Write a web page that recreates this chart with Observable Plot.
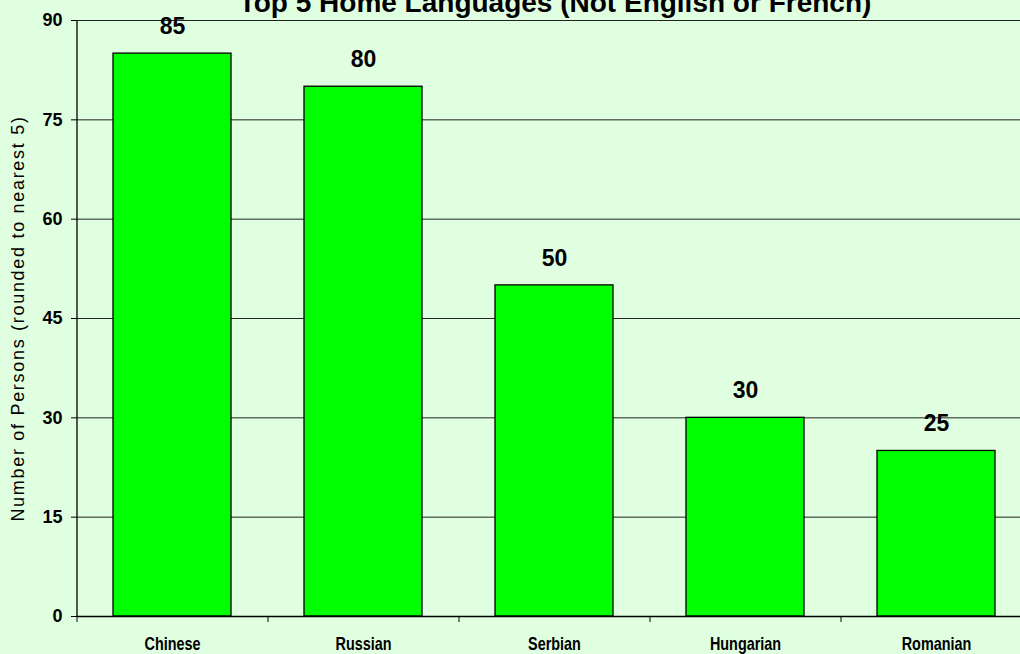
<!DOCTYPE html>
<html><head><meta charset="utf-8">
<script src="https://cdn.jsdelivr.net/npm/d3@7"></script>
<script src="https://cdn.jsdelivr.net/npm/@observablehq/plot@0.6"></script>
<style>
html,body{margin:0;padding:0;background:#e0ffe0;overflow:hidden;}
#chart svg{display:block;}
</style>
</head><body><div id="chart"></div>
<script>
const languages = ["Chinese", "Russian", "Serbian", "Hungarian", "Romanian"];
const persons = [85, 80, 50, 30, 25];
const yTicks = [0, 15, 30, 45, 60, 75, 90];
const title = "Top 5 Home Languages (Not English or French)";
const yLabel = "Number of Persons (rounded to nearest 5)";

const data = languages.map((l, i) => ({language: l, value: persons[i]}));
const halfStep = (1032 - 77) / languages.length / 2;

const chart = Plot.plot({
  width: 1020,
  height: 654,
  marginLeft: 77,
  marginRight: -12,
  marginTop: 20,
  marginBottom: 38,
  style: {background: "#e0ffe0", fontFamily: "Arial, 'Liberation Sans', sans-serif", overflow: "visible"},
  x: {domain: languages, paddingInner: 0.38, paddingOuter: 0.19, label: null},
  y: {domain: [0, 90], label: null},
  marks: [
    Plot.ruleY(yTicks, {stroke: "#222", strokeWidth: 1}),
    Plot.barY(data, {x: "language", y: "value", fill: "#00ff00", stroke: "#000", strokeWidth: 1.3}),
    Plot.ruleY([0], {stroke: "#000", strokeWidth: 1.6}),
    Plot.ruleX([languages[0]], {x: d => d, dx: -halfStep, y1: 0, y2: 90, stroke: "#000", strokeWidth: 1.3}),
    Plot.ruleX(languages, {x: d => d, dx: -halfStep, y1: 0, y2: -0.9, stroke: "#000", strokeWidth: 1}),
    Plot.text(data, {x: "language", y: "value", text: d => String(d.value), dy: -27, fontSize: 23, fontWeight: "bold", fill: "#000"}),
    Plot.axisY(yTicks, {anchor: "left", tickSize: 6, tickPadding: 9, fontSize: 18, fontWeight: "bold", fill: "#000", stroke: "#000", label: null}),
    Plot.axisX({anchor: "bottom", tickSize: 0, tickPadding: 21, fontSize: 18, fontWeight: "bold", fontFamily: "Arial, 'Liberation Sans', sans-serif", fill: "#000", label: null}),
    Plot.text([title], {frameAnchor: "top", dy: -28, fontSize: 28, fontWeight: "bold", fill: "#000"}),
    Plot.text([yLabel], {frameAnchor: "left", textAnchor: "middle", dx: -59, rotate: -90, fontSize: 18, fill: "#000"})
  ]
});
document.getElementById("chart").appendChild(chart);

// narrow the category labels (condensed look) and space out the y-axis title
d3.select(chart).selectAll("text").each(function() {
  const t = d3.select(this);
  const s = t.text();
  if (languages.includes(s)) {
    const tr = t.attr("transform") || "";
    t.attr("transform", tr + " scale(0.8,1)");
  } else if (s === yLabel) {
    t.attr("letter-spacing", "1.7px");
  }
});
</script>
</body></html>
